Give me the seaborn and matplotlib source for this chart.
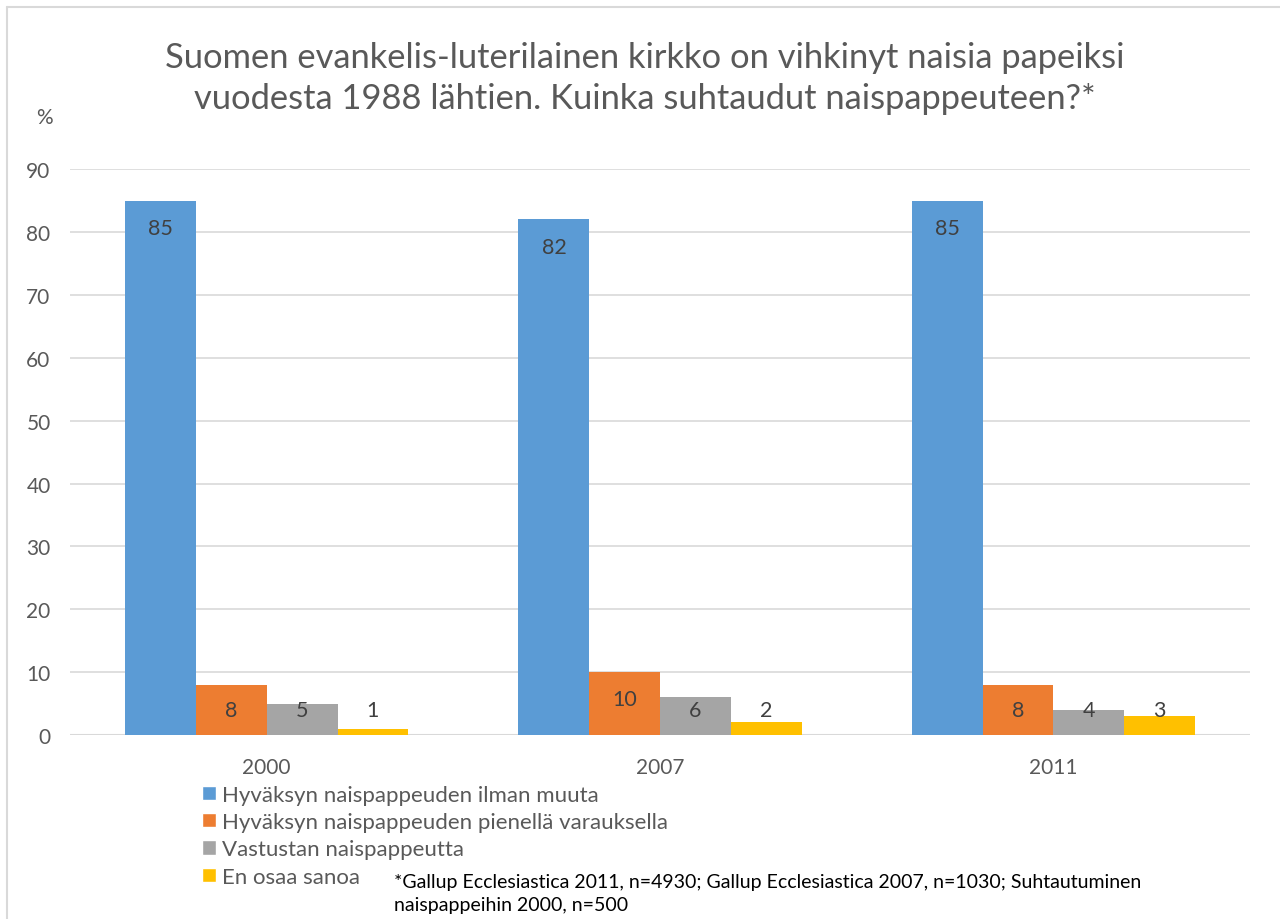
import matplotlib
matplotlib.use("Agg")
import matplotlib.pyplot as plt
import numpy as np
import pandas as pd
import seaborn as sns
from matplotlib.lines import Line2D
from matplotlib.patches import Patch

# data
years = ["2000", "2007", "2011"]
series = ["Hyväksyn naispappeuden ilman muuta",
          "Hyväksyn naispappeuden pienellä varauksella",
          "Vastustan naispappeutta",
          "En osaa sanoa"]
hyvaksyn = [85, 82, 85]
varauksella = [8, 10, 8]
vastustan = [5, 6, 4]
en_osaa = [1, 2, 3]
colors = ["#5B9BD5", "#ED7D31", "#A5A5A5", "#FFC000"]

df = pd.DataFrame({"vuosi": years * 4,
                   "sarja": np.repeat(series, 3),
                   "arvo": hyvaksyn + varauksella + vastustan + en_osaa})

sns.set_theme(style="white")
plt.rcParams["font.family"] = ["Lato", "DejaVu Sans"]
grey = "#595959"

fig = plt.figure(figsize=(12.8, 9.2), dpi=100)
ax = fig.add_axes([0.0547, 0.2, 0.922, 0.615])

sns.barplot(data=df, x="vuosi", y="arvo", hue="sarja", palette=colors,
            width=0.72, saturation=1, legend=False, linewidth=0, ax=ax)

ax.set_ylim(0, 90)
ax.set_yticks(range(0, 91, 10))
ax.yaxis.grid(True, color="#D9D9D9", linewidth=1.2)
ax.set_axisbelow(True)
for s in ax.spines.values():
    s.set_visible(False)
ax.axhline(0, color="#D9D9D9", linewidth=1.5, zorder=0)
ax.set_xlabel("")
ax.set_ylabel("")
ax.tick_params(axis="both", length=0, labelsize=15, labelcolor=grey, pad=14)
ax.tick_params(axis="x", pad=16)
ax.set_xlim(-0.5, 2.5)

# value labels, Excel "inside end" style, kept above the axis
for cont in ax.containers:
    for bar in cont:
        h = bar.get_height()
        y = max(h - 4.3, 4.0)
        ax.text(bar.get_x() + bar.get_width() / 2, y, f"{h:.0f}",
                ha="center", va="center", fontsize=15.5, color="#404040")

fig.text(0.504, 0.915, "Suomen evankelis-luterilainen kirkko on vihkinyt naisia papeiksi\n"
         "vuodesta 1988 lähtien. Kuinka suhtaudut naispappeuteen?*",
         ha="center", va="center", fontsize=24.8, color=grey, linespacing=1.35)
fig.text(0.035, 0.872, "%", ha="center", va="center", fontsize=15, color=grey)

handles = [Patch(facecolor=c) for c in colors]
fig.legend(handles, series, loc="upper left", bbox_to_anchor=(0.158, 0.146),
           frameon=False, fontsize=16, labelcolor=grey, handlelength=0.6,
           handleheight=0.6, handletextpad=0.3, labelspacing=0.33,
           borderpad=0, borderaxespad=0)

fig.text(0.308, 0.028, "*Gallup Ecclesiastica 2011, n=4930; Gallup Ecclesiastica 2007, n=1030; Suhtautuminen\n"
         "naispappeihin 2000, n=500", ha="left", va="center", fontsize=14,
         color="black", linespacing=1.45)

# chart border
fig.add_artist(Line2D([0.0055, 0.0055], [0, 0.991], color="#D9D9D9", linewidth=1.5))
fig.add_artist(Line2D([0.0055, 1], [0.991, 0.991], color="#D9D9D9", linewidth=1.5))

fig.savefig("out.png", dpi=100)
